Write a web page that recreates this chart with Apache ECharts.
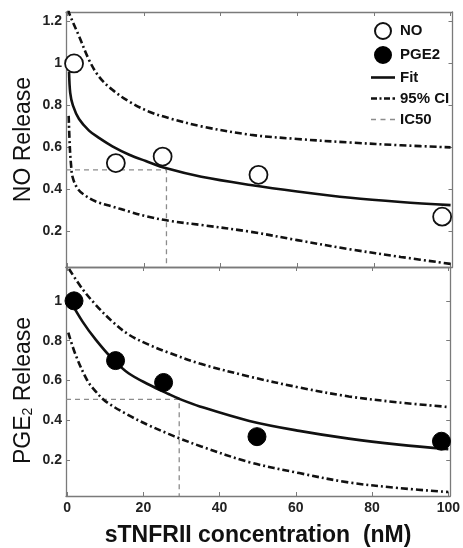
<!DOCTYPE html>
<html>
<head>
<meta charset="utf-8">
<script src="https://cdn.jsdelivr.net/npm/echarts@6/dist/echarts.min.js"></script>
<style>html,body{margin:0;padding:0;background:#fff}#c{width:463px;height:548px}</style>
</head>
<body>
<div id="c"></div>
<script>
// ---- data ----
var xTicks = [0, 20, 40, 60, 80, 100];
var yTicksTop = [0.2, 0.4, 0.6, 0.8, 1, 1.2];
var yTicksBottom = [0.2, 0.4, 0.6, 0.8, 1];

var noPoints = [[1.8, 1.0], [12.7, 0.525], [24.9, 0.556], [49.9, 0.469], [97.8, 0.27]];
var noFit = [[0.5, 0.96], [0.8, 0.86], [1.5, 0.80], [3.1, 0.735], [5.7, 0.68], [8.3, 0.645], [11.8, 0.605], [16.2, 0.565], [20.5, 0.535], [25.9, 0.50], [35, 0.46], [47.8, 0.421], [60, 0.39], [73.9, 0.36], [87, 0.34], [100, 0.325]];
var noUpper = [[0.3, 1.26], [0.5, 1.24], [3.1, 1.13], [5.7, 1.017], [8.3, 0.937], [11.8, 0.874], [16.2, 0.818], [21.4, 0.77], [26.6, 0.739], [35, 0.70], [47.8, 0.66], [60, 0.64], [73.9, 0.623], [87, 0.61], [100, 0.60]];
var noLower = [[0.4, 0.75], [0.7, 0.60], [1.0, 0.52], [1.4, 0.46], [2.5, 0.41], [4.0, 0.38], [7.5, 0.342], [11.8, 0.318], [16.2, 0.294], [20.5, 0.272], [26.6, 0.25], [35, 0.23], [47.8, 0.198], [60, 0.158], [73.9, 0.114], [87, 0.078], [100, 0.045]];
var noIC50 = [[-0.3, 0.493], [25.9, 0.493], [25.9, 0.03]];

var pgePoints = [[1.8, 1.0], [12.7, 0.70], [25.3, 0.59], [49.8, 0.318], [98.2, 0.295]];
var pgeFit = [[0.5, 1.01], [4, 0.897], [7.5, 0.805], [11.8, 0.71], [16.2, 0.635], [21.4, 0.58], [26.6, 0.532], [29.4, 0.508], [34.8, 0.47], [47.8, 0.397], [60.9, 0.347], [73.9, 0.308], [87, 0.278], [100, 0.255]];
var pgeUpper = [[0.5, 1.16], [4, 1.06], [7.5, 0.98], [11.8, 0.897], [16.2, 0.83], [21.4, 0.78], [26.6, 0.74], [34.8, 0.685], [47.8, 0.62], [60.9, 0.565], [73.9, 0.52], [87, 0.49], [100, 0.467]];
var pgeLower = [[0.3, 0.84], [2.2, 0.73], [5.3, 0.60], [7.5, 0.545], [10.1, 0.495], [16.2, 0.425], [21.4, 0.375], [26.6, 0.332], [29.4, 0.31], [35, 0.27], [47.8, 0.19], [60.9, 0.135], [73.9, 0.088], [87, 0.06], [100, 0.04]];
var pgeIC50 = [[-0.3, 0.505], [29.4, 0.505], [29.4, 0.02]];

var FONT = 'Liberation Sans, Arial, sans-serif';
var AX = '#7a7a7a';
var XMIN = -0.3, XMAX = 100.5;

function xAx(grid, pos, labels) {
  return {
    type: 'value', gridIndex: grid, position: pos, min: XMIN, max: XMAX,
    splitLine: {show: false},
    axisLine: {show: true, onZero: false, lineStyle: {color: AX, width: 1.3}},
    axisTick: {show: true, inside: true, length: 4, customValues: xTicks, lineStyle: {color: AX}},
    axisLabel: {show: labels, customValues: xTicks, margin: 5, color: '#222', fontWeight: 'bold', fontSize: 14, fontFamily: FONT}
  };
}
function yAx(grid, pos, ymin, ymax, ticks, labels) {
  return {
    type: 'value', gridIndex: grid, position: pos, min: ymin, max: ymax,
    splitLine: {show: false},
    axisLine: {show: true, onZero: false, lineStyle: {color: AX, width: 1.3}},
    axisTick: {show: true, inside: true, length: 4, customValues: ticks, lineStyle: {color: AX}},
    axisLabel: {show: labels, customValues: ticks, margin: 4, color: '#222', fontWeight: 'bold', fontSize: 14, fontFamily: FONT}
  };
}

var xAxes = [xAx(0, 'bottom', false), xAx(0, 'top', false), xAx(1, 'bottom', true), xAx(1, 'top', false)];
xAxes[2].name = 'sTNFRII concentration  (nM)';
xAxes[2].nameLocation = 'middle';
xAxes[2].nameGap = 28;
xAxes[2].nameTextStyle = {fontSize: 23, fontWeight: 'bold', color: '#111', fontFamily: FONT};

var yAxes = [
  yAx(0, 'left', 0.03, 1.245, yTicksTop, true),
  yAx(0, 'right', 0.03, 1.245, yTicksTop, false),
  yAx(1, 'left', 0.02, 1.17, yTicksBottom, true),
  yAx(1, 'right', 0.02, 1.17, yTicksBottom, false)
];
yAxes[0].name = 'NO Release';
yAxes[0].nameLocation = 'middle';
yAxes[0].nameGap = 31;
yAxes[0].nameMoveOverlap = false;
yAxes[0].nameTextStyle = {fontSize: 23, color: '#111', fontFamily: FONT};
yAxes[2].name = 'PGE{sub|2} Release';
yAxes[2].nameLocation = 'middle';
yAxes[2].nameGap = 31;
yAxes[2].nameMoveOverlap = false;
yAxes[2].nameTextStyle = {fontSize: 23, color: '#111', fontFamily: FONT, padding: [0, 18, 0, 0],
  rich: {sub: {fontSize: 14, color: '#111', fontFamily: FONT, verticalAlign: 'bottom', padding: [8, 0, 0, 0]}}};

var CI = {color: '#111', width: 2.6, type: [7, 3, 2, 3]};
var FIT = {color: '#111', width: 2.6};
var IC = {color: '#8c8c8c', width: 1.3, type: [5, 4]};

function line(name, data, gi, style, z) {
  return {name: name, type: 'line', xAxisIndex: gi === 0 ? 0 : 2, yAxisIndex: gi === 0 ? 0 : 2,
    data: data, symbol: 'none', smooth: name !== 'IC50' ? 0.35 : false, lineStyle: style,
    itemStyle: {color: style.color}, silent: true, animation: false, z: z || 2};
}

var series = [
  line('IC50', noIC50, 0, IC, 1),
  line('95% CI', noUpper, 0, CI),
  line('95% CI', noLower, 0, CI),
  line('Fit', noFit, 0, FIT, 3),
  {name: 'NO', type: 'scatter', xAxisIndex: 0, yAxisIndex: 0, data: noPoints, symbol: 'circle', symbolSize: 18,
    itemStyle: {color: '#fff', borderColor: '#111', borderWidth: 1.8, opacity: 1}, z: 5, animation: false},
  line('IC50', pgeIC50, 1, IC, 1),
  line('95% CI', pgeUpper, 1, CI),
  line('95% CI', pgeLower, 1, CI),
  line('Fit', pgeFit, 1, FIT, 3),
  {name: 'PGE2', type: 'scatter', xAxisIndex: 2, yAxisIndex: 2, data: pgePoints, symbol: 'circle', symbolSize: 18,
    itemStyle: {color: '#000', borderColor: '#000', borderWidth: 1, opacity: 1}, z: 5, animation: false}
];

var chart = echarts.init(document.getElementById('c'), null, {renderer: 'canvas'});
chart.setOption({
  backgroundColor: '#fff',
  animation: false,
  grid: [
    {left: 66, width: 386.5, top: 12, height: 255},
    {left: 66, width: 386.5, top: 267, height: 230}
  ],
  xAxis: xAxes,
  yAxis: yAxes,
  legend: {
    data: [
      {name: 'NO', icon: 'circle'},
      {name: 'PGE2', icon: 'circle'},
      {name: 'Fit', icon: 'path://M0,0h24v2.6h-24z'},
      {name: '95% CI', icon: 'path://M0,0h6v2.6h-6z M8.5,0h2v2.6h-2z M13,0h6v2.6h-6z M21.5,0h2.5v2.6h-2.5z'},
      {name: 'IC50', icon: 'path://M0,0h5v1.3h-5z M9.5,0h5v1.3h-5z M19,0h5v1.3h-5z'}
    ],
    orient: 'vertical', left: 366, top: 17, itemWidth: 24, itemHeight: 16, itemGap: 6,
    symbolKeepAspect: true,
    selectedMode: false,
    textStyle: {fontSize: 15, fontWeight: 'bold', color: '#111', fontFamily: FONT}
  },
  series: series
});
</script>
</body>
</html>
